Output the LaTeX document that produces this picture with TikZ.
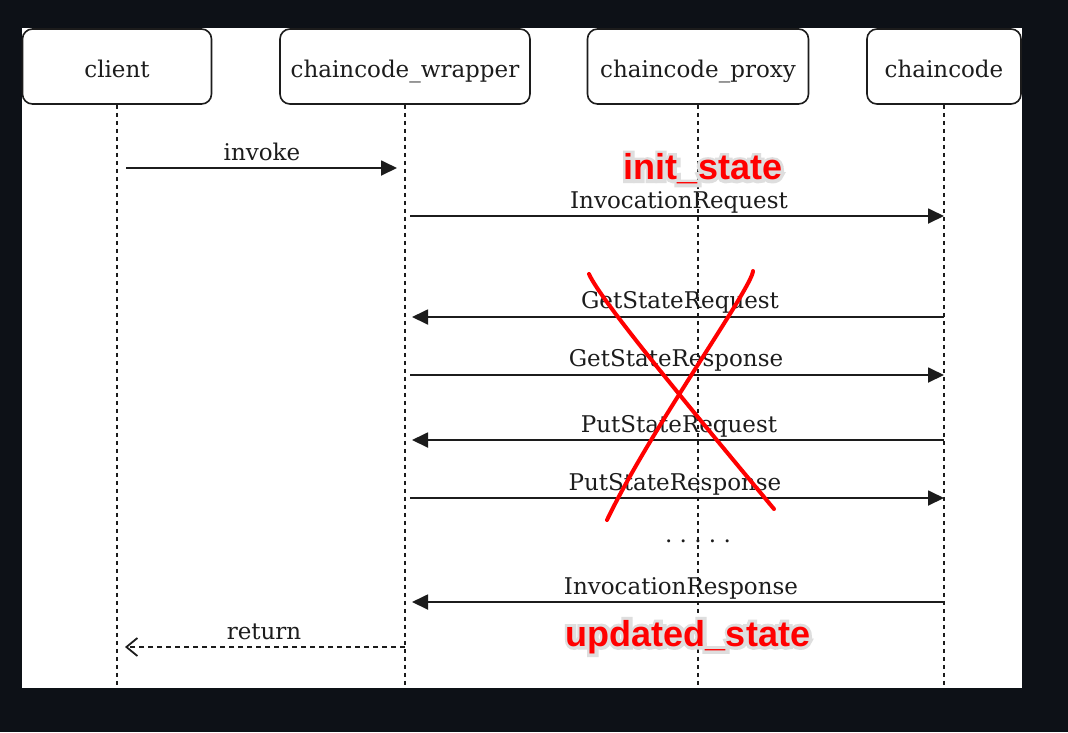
\documentclass[tikz,border=0pt]{standalone}
\usepackage{fontspec}
\setmainfont{DejaVu Serif}
\newfontfamily\redfont{Liberation Sans}
\newfontfamily\glowfont{Liberation Sans}[FakeBold=18]
\usetikzlibrary{arrows.meta}
\definecolor{bgdark}{RGB}{13,17,23}
\definecolor{ink}{RGB}{28,28,28}
\definecolor{mark}{RGB}{255,0,0}
\definecolor{halo}{RGB}{222,222,222}
\tikzset{
  actor/.style={draw=ink, line width=1.6pt, rounded corners=10pt, fill=white, inner sep=0pt, font=\fontsize{23}{27}\selectfont, text=ink},
  lifeline/.style={draw=ink, line width=1.7pt, dash pattern=on 4.5pt off 3.5pt},
  msg/.style={draw=ink, line width=1.8pt, -{Triangle[length=16pt,width=15pt]}},
  ret/.style={draw=ink, line width=1.5pt, dash pattern=on 5pt off 4pt, -{Straight Barb[length=11pt,width=18pt,line width=1.8pt]}},
  msglabel/.style={font=\fontsize{23}{27}\selectfont, text=ink, inner sep=0pt, anchor=base},
  crossline/.style={draw=mark, line width=4pt, line cap=round},
  glowtext/.style={font=\redfont\bfseries\fontsize{36}{40}\selectfont, inner sep=0pt},
  halotext/.style={font=\glowfont\bfseries\fontsize{36}{40}\selectfont, inner sep=0pt, text=halo}
}
\newcommand{\glowlabel}[3]{%
  \node[halotext] at (#2) {#3};
  \node[glowtext, text=mark] (#1) at (#2) {#3};
}
\newcommand{\boxtext}[1]{\raisebox{-10.5pt}[0pt][0pt]{#1}}
\begin{document}
\begin{tikzpicture}[x=1pt,y=-1pt]
\useasboundingbox (0,0) rectangle (1068,732);
\fill[bgdark] (0,0) rectangle (1068,732);
\fill[white] (22,28) rectangle (1022,688);

% actors
\node[actor, minimum width=189pt, minimum height=75pt] (client) at (117,66.5) {\boxtext{client}};
\node[actor, minimum width=250pt, minimum height=75pt] (wrapper) at (405,66.5) {\boxtext{chaincode\_wrapper}};
\node[actor, minimum width=221pt, minimum height=75pt] (proxy) at (698,66.5) {\boxtext{chaincode\_proxy}};
\node[actor, minimum width=154pt, minimum height=75pt] (cc) at (944,66.5) {\boxtext{chaincode}};

% lifeline ends
\coordinate (clientEnd) at (117,688);
\coordinate (wrapperEnd) at (405,688);
\coordinate (proxyEnd) at (698,688);
\coordinate (ccEnd) at (944,688);
\draw[lifeline] (client.south) -- (clientEnd);
\draw[lifeline] (wrapper.south) -- (wrapperEnd);
\draw[lifeline] (proxy.south) -- (proxyEnd);
\draw[lifeline] (cc.south) -- (ccEnd);

% message end points
\coordinate (m1a) at (126,168);  \coordinate (m1b) at (397,168);
\coordinate (m2a) at (410,216);  \coordinate (m2b) at (944,216);
\coordinate (m3a) at (944,317);  \coordinate (m3b) at (412,317);
\coordinate (m4a) at (410,375);  \coordinate (m4b) at (944,375);
\coordinate (m5a) at (944,440);  \coordinate (m5b) at (412,440);
\coordinate (m6a) at (410,498);  \coordinate (m6b) at (944,498);
\coordinate (m7a) at (944,602);  \coordinate (m7b) at (412,602);
\coordinate (m8a) at (405,647);  \coordinate (m8b) at (125,647);

\draw[msg] (m1a) -- (m1b);
\draw[msg] (m2a) -- (m2b);
\draw[msg] (m3a) -- (m3b);
\draw[msg] (m4a) -- (m4b);
\draw[msg] (m5a) -- (m5b);
\draw[msg] (m6a) -- (m6b);
\draw[msg] (m7a) -- (m7b);
\draw[ret] (m8a) -- (m8b);

\node[msglabel] (l1) at (262,160) {invoke};
\node[msglabel] (l2) at (679,208) {InvocationRequest};
\node[msglabel] (l3) at (680,308) {GetStateRequest};
\node[msglabel] (l4) at (676,366) {GetStateResponse};
\node[msglabel] (l5) at (679,432) {PutStateRequest};
\node[msglabel] (l6) at (675,490) {PutStateResponse};
\node[msglabel] (dots) at (698,542) {.\ .\ .\ .\ .};
\node[msglabel] (l7) at (681,594) {InvocationResponse};
\node[msglabel] (l8) at (264,639) {return};

% red annotations
\glowlabel{initst}{703,169}{init\_state}
\glowlabel{updst}{688,637}{updated\_state}

\coordinate (xa1) at (589,274);
\coordinate (xa2) at (774,509);
\coordinate (xb1) at (753,271);
\coordinate (xb2) at (607,520);
\draw[crossline] (xa1) .. controls (600,300) and (700,420) .. (xa2);
\draw[crossline] (xb1) .. controls (752,288) and (650,430) .. (xb2);
\end{tikzpicture}
\end{document}
